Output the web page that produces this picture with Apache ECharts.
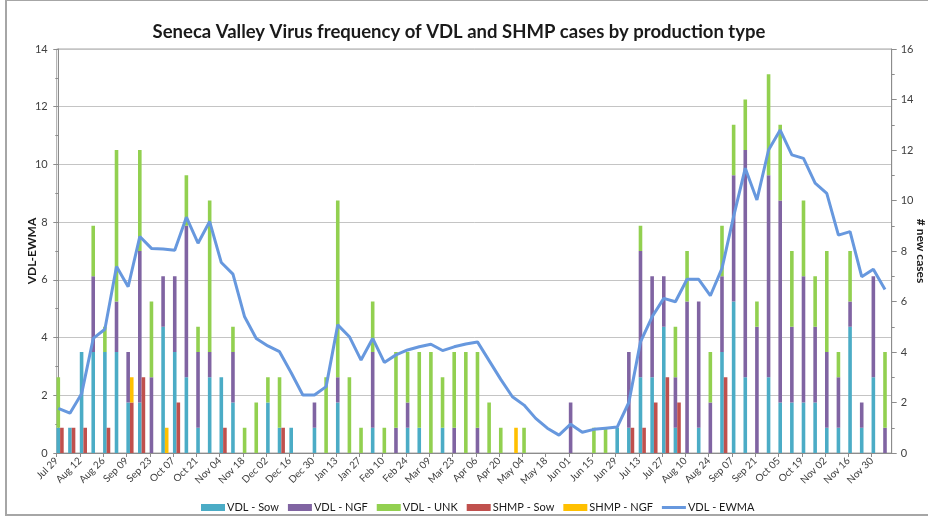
<!DOCTYPE html>
<html>
<head>
<meta charset="utf-8">
<script src="https://cdn.jsdelivr.net/npm/echarts@6/dist/echarts.min.js"></script>
<style>
html,body{margin:0;padding:0;background:#fff;}
#c{width:928px;height:518px;}
</style>
</head>
<body>
<div id="c"></div>
<script>
// Week labels (one every two weeks on the axis)
const tickLabels = ['Jul 29','Aug 12','Aug 26','Sep 09','Sep 23','Oct 07','Oct 21','Nov 04','Nov 18','Dec 02','Dec 16','Dec 30','Jan 13','Jan 27','Feb 10','Feb 24','Mar 09','Mar 23','Apr 06','Apr 20','May 04','May 18','Jun 01','Jun 15','Jun 29','Jul 13','Jul 27','Aug 10','Aug 24','Sep 07','Sep 21','Oct 05','Oct 19','Nov 02','Nov 16','Nov 30'];

// Weekly counts (72 weeks)
const vdlSow = [1,1,4,4,4,4,2,2,0,5,4,3,1,3,3,2,0,0,2,1,1,0,1,0,2,0,0,1,0,0,1,1,0,1,0,0,0,0,0,0,0,0,0,0,0,0,0,0,1,1,3,3,5,1,0,1,0,4,6,3,0,3,2,2,2,2,1,1,5,1,3,0];
const vdlNgf = [0,0,0,3,0,2,2,6,3,2,3,6,3,1,0,2,0,0,0,0,0,0,1,0,1,0,0,3,0,1,1,0,0,0,1,0,1,0,0,0,0,0,0,0,2,0,0,0,0,3,5,4,2,2,6,5,2,3,5,9,5,8,8,3,5,3,3,2,1,1,4,1];
const vdlUnk = [2,0,0,2,1,6,0,4,3,0,0,2,1,6,0,1,1,2,1,2,0,0,0,3,7,3,1,2,1,3,2,3,4,2,3,4,3,2,1,0,1,0,0,0,0,0,1,1,0,0,1,0,0,2,2,0,2,2,2,2,1,4,3,3,3,2,4,1,2,0,0,3];
const shmpSow = [1,1,1,0,1,0,2,3,0,0,2,0,0,0,1,0,0,0,0,1,0,0,0,0,0,0,0,0,0,0,0,0,0,0,0,0,0,0,0,0,0,0,0,0,0,0,0,0,0,1,1,2,3,2,0,0,0,3,0,0,0,0,0,0,0,0,0,0,0,0,0,0];
const shmpNgf = [0,0,0,0,0,0,1,0,0,1,0,0,0,0,0,0,0,0,0,0,0,0,0,0,0,0,0,0,0,0,0,0,0,0,0,0,0,0,0,1,0,0,0,0,0,0,0,0,0,0,0,0,0,0,0,0,0,0,0,0,0,0,0,0,0,0,0,0,0,0,0,0];
// VDL exponentially weighted moving average (left axis)
const vdlEwma = [1.55,1.38,2.05,3.97,4.29,6.46,5.76,7.5,7.09,7.07,7.03,8.17,7.27,8.02,6.6,6.2,4.72,3.97,3.71,3.51,2.78,2.01,2.01,2.3,4.44,4.03,3.22,3.97,3.14,3.4,3.57,3.68,3.77,3.55,3.68,3.78,3.85,3.2,2.55,1.95,1.66,1.2,0.86,0.62,1.0,0.72,0.82,0.86,0.9,1.75,3.85,4.72,5.36,5.24,6.02,6.02,5.45,6.4,8.2,9.87,8.77,10.5,11.19,10.33,10.21,9.35,9.0,7.55,7.67,6.11,6.37,5.67];

const weeks = vdlSow.map((_, i) => String(i));
const axisStart = -0.137, axisEnd = 71.58;
const tickVals = tickLabels.map((_, k) => axisStart + 2 * k);

const FONT = 'Lato, "Liberation Sans", sans-serif';
const AX = '#8c8c8c';
const LINE_COLOR = '#6798de';
const chart = echarts.init(document.getElementById('c'), null, {renderer: 'canvas'});

function barSeries(name, data, stack, color) {
  return {
    name, type: 'bar', stack, xAxisIndex: 1, yAxisIndex: 3, barWidth: 3.6, barGap: '0%', clip: false,
    data, itemStyle: {color}, emphasis: {disabled: true}, z: 2
  };
}

chart.setOption({
  animation: false,
  backgroundColor: '#ffffff',
  textStyle: {fontFamily: FONT},
  graphic: [
    {type: 'rect', shape: {x: 6, y: 0, width: 930, height: 515}, style: {fill: 'none', stroke: '#a6a6a6', lineWidth: 2}, silent: true},
    {type: 'text', x: 459, y: 32, style: {text: 'Seneca Valley Virus frequency of VDL and SHMP cases by production type', fontFamily: FONT, fontWeight: 'bold', fontSize: 18.5, fill: '#1a1a1a', textAlign: 'center', textVerticalAlign: 'middle'}}
  ],
  legend: {
    left: 196, top: 497, itemWidth: 24, itemHeight: 7, itemGap: 9,
    data: [
      {name: 'VDL - Sow', icon: 'rect'}, {name: 'VDL - NGF', icon: 'rect'}, {name: 'VDL - UNK', icon: 'rect'},
      {name: 'SHMP - Sow', icon: 'rect'}, {name: 'SHMP - NGF', icon: 'rect'},
      {name: 'VDL - EWMA', icon: 'path://M0,0 L24,0 L24,3 L0,3 Z'}
    ],
    textStyle: {fontFamily: FONT, fontSize: 11, color: '#1a1a1a', padding: [0, 0, 0, -3]}
  },
  grid: [
    {left: 56.7, right: 36.3, top: 49, bottom: 65, containLabel: false, outerBoundsMode: 'none',
     show: true, borderColor: '#a6a6a6', borderWidth: 1},
    {left: 58.3, right: 43, top: 49, bottom: 65, containLabel: false, outerBoundsMode: 'none'}
  ],
  xAxis: [
    {
      type: 'value', gridIndex: 0, min: axisStart, max: axisEnd,
      axisLine: {show: true, onZero: false, lineStyle: {color: AX}},
      axisTick: {show: true, length: 4, lineStyle: {color: AX}, customValues: tickVals},
      axisLabel: {
        customValues: tickVals, rotate: 45, fontSize: 10, color: '#404040', margin: 6,
        formatter: v => tickLabels[Math.round((v - axisStart) / 2)] || ''
      },
      splitLine: {show: false}
    },
    {
      type: 'category', gridIndex: 1, data: weeks, boundaryGap: false,
      axisLine: {show: false}, axisTick: {show: false}, axisLabel: {show: false}, splitLine: {show: false}
    }
  ],
  yAxis: [
    {
      type: 'value', gridIndex: 0, min: 0, max: 14, interval: 2, position: 'left',
      name: 'VDL-EWMA', nameLocation: 'middle', nameGap: 19, nameRotate: 90, nameMoveOverlap: false,
      nameTextStyle: {fontWeight: 'bold', fontSize: 12, color: '#1a1a1a', fontFamily: FONT},
      axisLine: {show: true, lineStyle: {color: AX}},
      axisTick: {show: true, length: 5, lineStyle: {color: AX}},
      minorTick: {show: true, splitNumber: 2, length: 3, lineStyle: {color: AX}},
      axisLabel: {fontSize: 11, color: '#404040', margin: 9},
      splitLine: {show: true, lineStyle: {color: '#c4c4c4', width: 1}}
    },
    {
      type: 'value', gridIndex: 0, min: 0, max: 16, interval: 2, position: 'right',
      name: '# new cases', nameLocation: 'middle', nameGap: 23, nameRotate: -90, nameMoveOverlap: false,
      nameTextStyle: {fontWeight: 'bold', fontSize: 12, color: '#1a1a1a', fontFamily: FONT},
      axisLine: {show: true, lineStyle: {color: AX}},
      axisTick: {show: true, length: 5, lineStyle: {color: AX}},
      minorTick: {show: true, splitNumber: 2, length: 3, lineStyle: {color: AX}},
      axisLabel: {fontSize: 11, color: '#404040', margin: 9},
      splitLine: {show: false}
    },
    {type: 'value', gridIndex: 1, min: 0, max: 14, show: false, splitLine: {show: false}},
    {type: 'value', gridIndex: 1, min: 0, max: 16, show: false, splitLine: {show: false}}
  ],
  series: [
    {name: 'pad', type: 'bar', stack: 'pad', xAxisIndex: 1, yAxisIndex: 3, barWidth: 3.6, barGap: '0%', clip: false,
     data: weeks.map(() => 0), itemStyle: {color: 'rgba(0,0,0,0)'}, silent: true},
    barSeries('VDL - Sow', vdlSow, 'vdl', '#4bacc6'),
    barSeries('VDL - NGF', vdlNgf, 'vdl', '#8064a2'),
    barSeries('VDL - UNK', vdlUnk, 'vdl', '#92d050'),
    barSeries('SHMP - Sow', shmpSow, 'shmp', '#c0504d'),
    barSeries('SHMP - NGF', shmpNgf, 'shmp', '#ffc000'),
    {
      name: 'VDL - EWMA', type: 'line', xAxisIndex: 1, yAxisIndex: 2, data: vdlEwma,
      symbol: 'none', showSymbol: false, lineStyle: {color: LINE_COLOR, width: 3}, itemStyle: {color: LINE_COLOR},
      z: 5, emphasis: {disabled: true}
    }
  ]
});
</script>
</body>
</html>
